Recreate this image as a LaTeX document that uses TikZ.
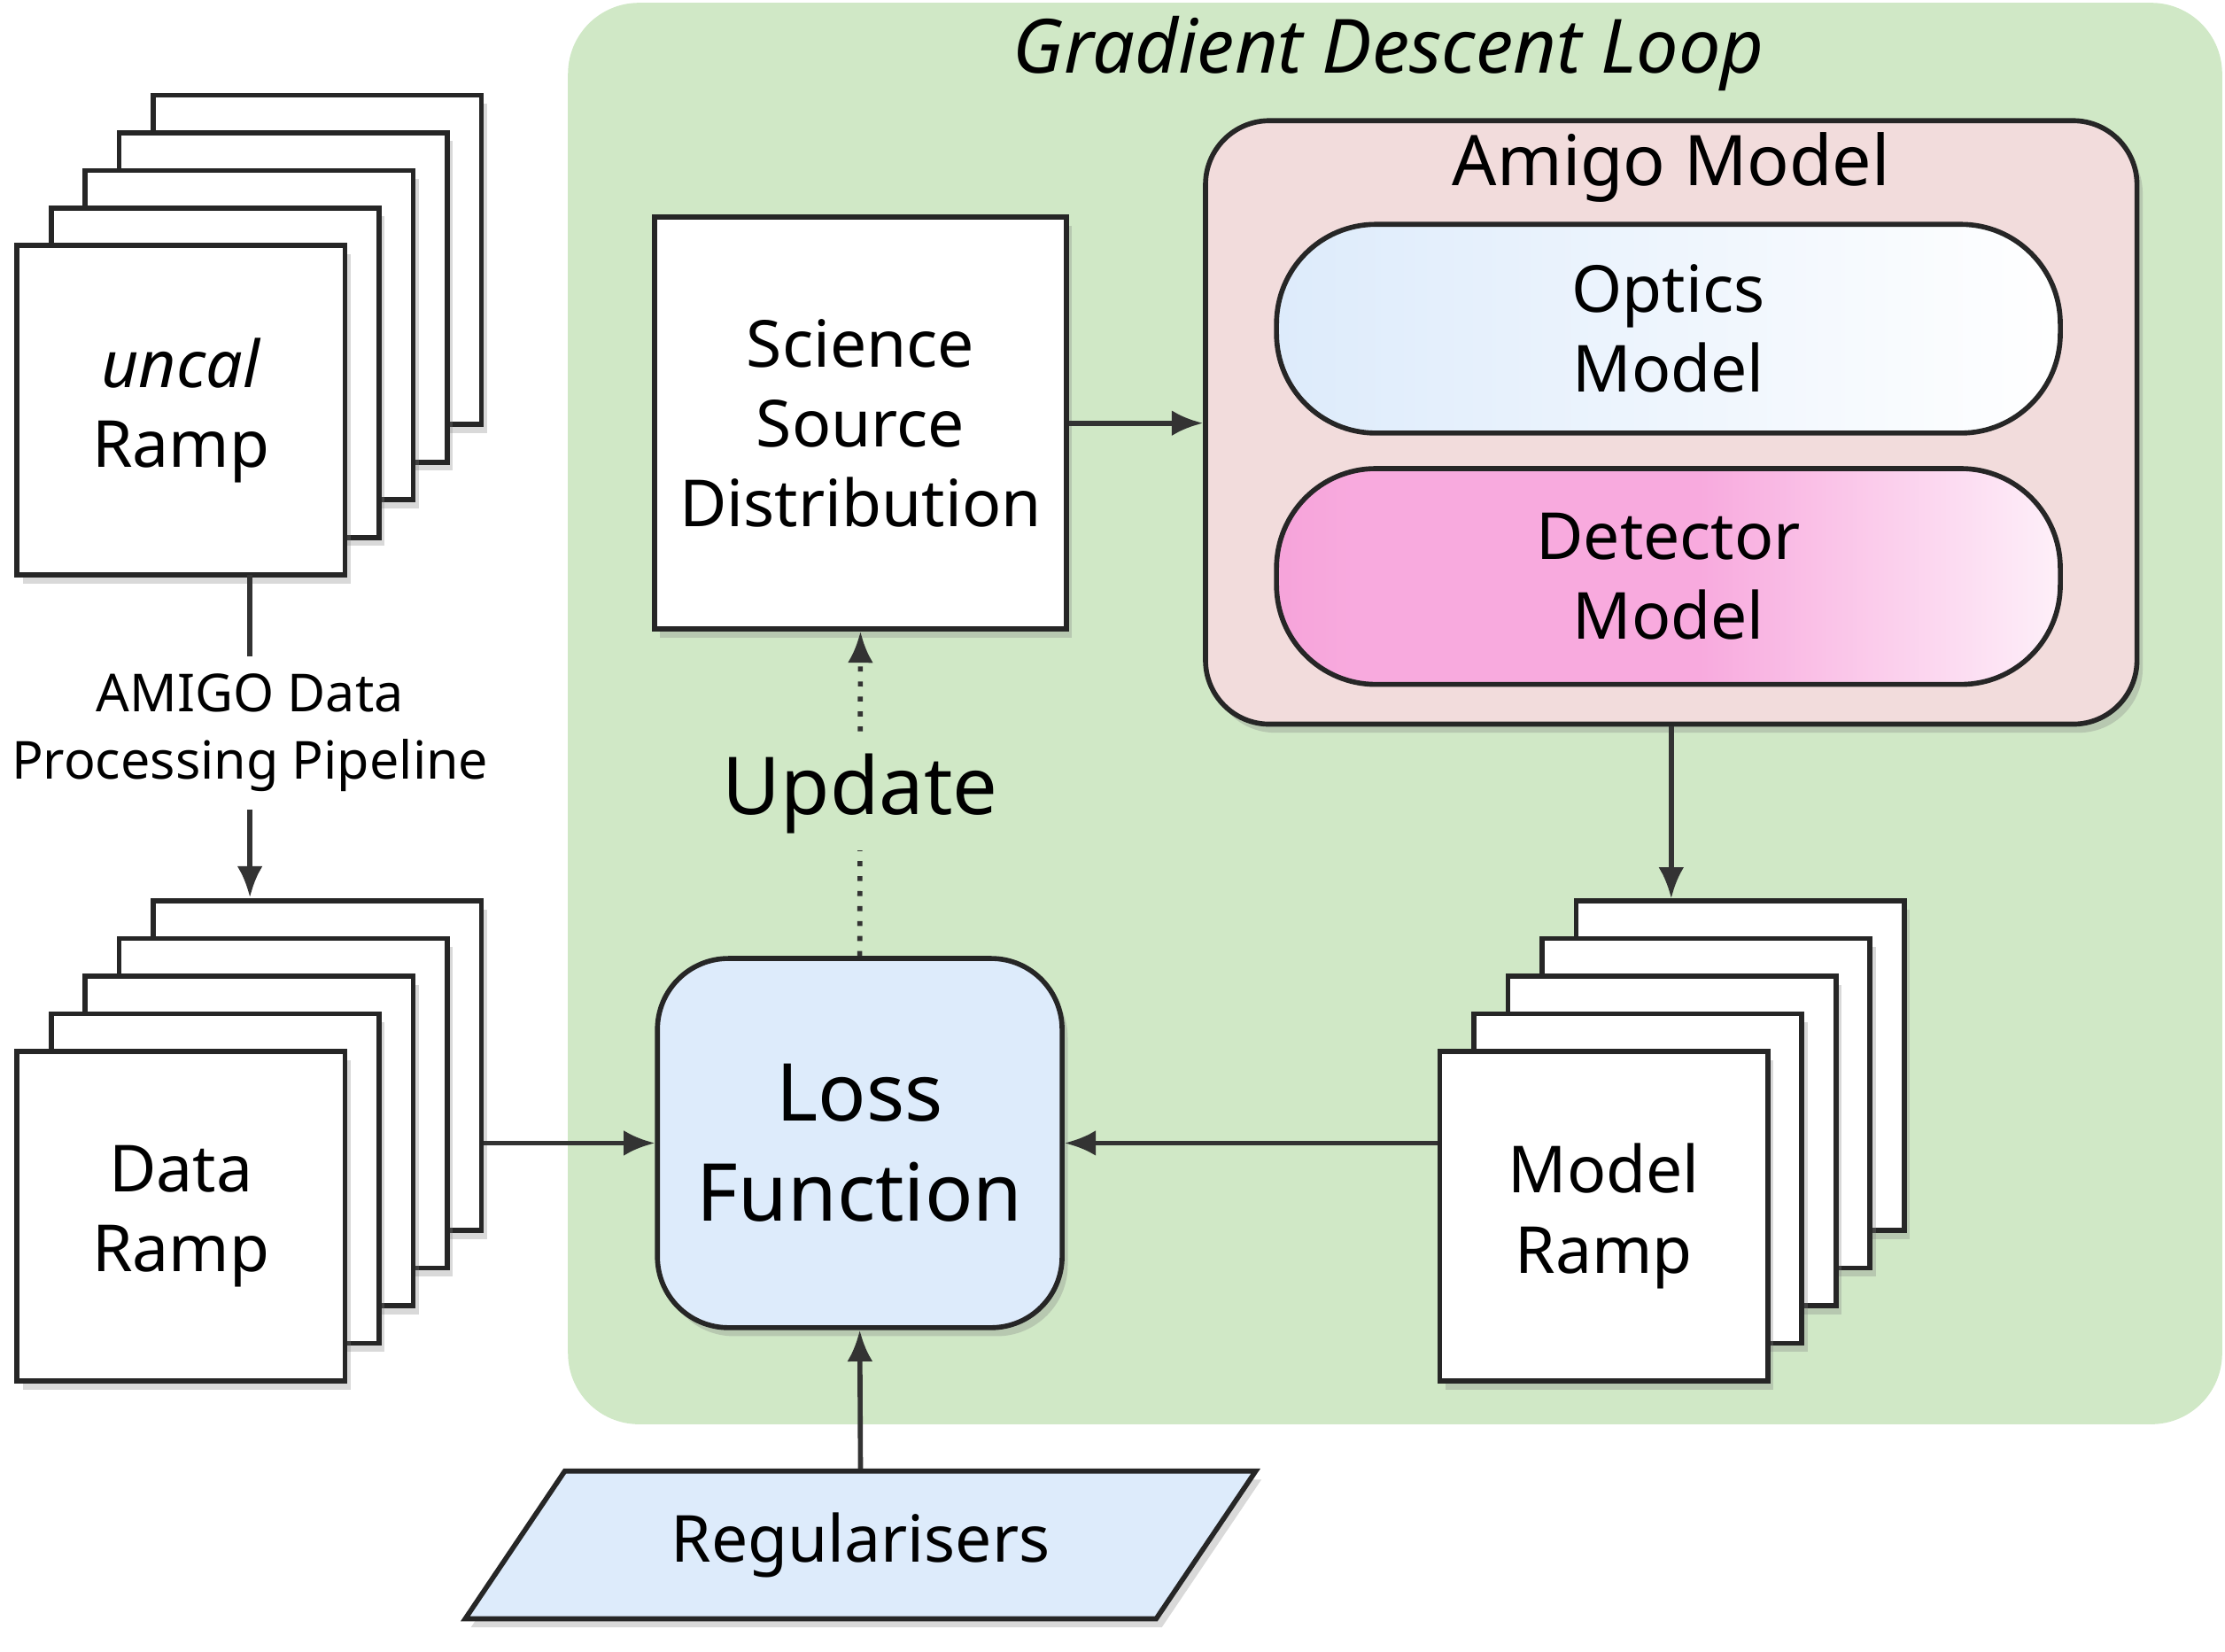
\documentclass[tikz,border=0pt]{standalone}
\usepackage{fontspec}
\setmainfont{Noto Sans}
\newfontfamily\titlefont{Noto Sans}[AutoFakeBold=2.5]
\usetikzlibrary{shapes.geometric,arrows.meta,shadows}

\definecolor{loopgreen}{RGB}{208,232,198}
\definecolor{lossblue}{RGB}{221,235,251}
\definecolor{amigopink}{RGB}{242,220,220}
\definecolor{detpinkA}{RGB}{236,130,196}
\definecolor{detpinkB}{RGB}{248,170,222}
\pgfdeclarehorizontalshading{detshade}{100bp}{color(0bp)=(detpinkA); color(30bp)=(detpinkB); color(52bp)=(detpinkB); color(80bp)=(white); color(100bp)=(white)}

\tikzset{
  frame/.style={draw=black!85, line width=1pt, fill=white, minimum width=2.31cm, minimum height=2.32cm,
    drop shadow={shadow xshift=0.04cm, shadow yshift=-0.06cm, opacity=0.3}},
  flow/.style={-{Latex[length=0.22cm,width=0.18cm]}, line width=1pt, draw=black!80},
  pill/.style={draw=black!85, line width=1pt, rounded corners=0.7cm, minimum width=5.52cm, align=center, font=\fontsize{13}{16}\selectfont}
}

\begin{document}
\begin{tikzpicture}
  \useasboundingbox (0,0) rectangle (15.67,11.63);

  % loop background
  \fill[loopgreen, rounded corners=0.5cm] (4.0,1.6) rectangle (15.65,11.61);
  \node (title) at (9.78,11.25) {\fontsize{15}{18}\selectfont\titlefont\bfseries\itshape Gradient Descent Loop};

  % ramp stacks
  \foreach \i in {4,3,2,1} {
    \node[frame] (uncal\i) at ({1.275+0.24*\i},{8.74+0.265*\i}) {};
    \node[frame] (data\i) at ({1.275+0.24*\i},{3.065+0.265*\i}) {};
    \node[frame] (mramp\i) at ({11.295+0.24*\i},{3.065+0.265*\i}) {};
  }
  \node[frame, align=center, font=\fontsize{13}{16}\selectfont] (uncal) at (1.275,8.74) {\textit{uncal}\\Ramp};
  \node[frame, align=center, font=\fontsize{13}{16}\selectfont] (data) at (1.275,3.065) {Data\\Ramp};
  \node[frame, align=center, font=\fontsize{13}{16}\selectfont] (mramp) at (11.295,3.065) {Model\\Ramp};

  % pipeline
  \node[align=center, font=\fontsize{10.5}{13.5}\selectfont] (pipe) at (1.76,6.47) {AMIGO Data\\Processing Pipeline};
  \draw[line width=1pt, draw=black!80] (1.76,7.58) -- (pipe.north);
  \draw[flow] (pipe.south) -- (1.76,5.31);

  % science source
  \node[frame, minimum width=2.9cm, minimum height=2.9cm, align=center, font=\fontsize{13}{16}\selectfont] (science) at (6.06,8.65) {Science\\Source\\Distribution};

  % amigo model
  \node[draw=black!85, line width=1pt, fill=amigopink, rounded corners=0.45cm, minimum width=6.56cm, minimum height=4.25cm,
    drop shadow={shadow xshift=0.04cm, shadow yshift=-0.06cm, opacity=0.3}] (amigo) at (11.77,8.655) {};
  \node[font=\fontsize{14}{17}\selectfont] (amigotitle) at (11.77,10.45) {Amigo Model};
  \node[pill, minimum height=1.47cm, left color=lossblue, right color=white] (optics) at (11.75,9.315) {Optics\\Model};
  \node[pill, minimum height=1.52cm, shading=detshade] (detector) at (11.75,7.57) {Detector\\Model};

  % loss function
  \node[draw=black!85, line width=1pt, fill=lossblue, rounded corners=0.5cm, minimum width=2.85cm, minimum height=2.6cm,
    align=center, font=\fontsize{16}{20}\selectfont,
    drop shadow={shadow xshift=0.04cm, shadow yshift=-0.06cm, opacity=0.3}] (loss) at (6.055,3.58) {Loss\\Function};

  % regularisers
  \node[trapezium, trapezium left angle=56, trapezium right angle=124, draw=black!85, line width=1pt, fill=lossblue,
    minimum height=1.04cm, inner xsep=0.05cm, font=\fontsize{13}{16}\selectfont,
    drop shadow={shadow xshift=0.04cm, shadow yshift=-0.06cm, opacity=0.3}] (reg) at (6.06,0.75) {Regularisers};

  % connectors
  \draw[flow] (science.east) -- (amigo.west |- science.east);
  \draw[flow] (amigo.south) -- (amigo.south |- mramp4.north);
  \draw[flow] (mramp.west |- loss.east) -- (loss.east);
  \draw[flow] (data4.east |- loss.west) -- (loss.west);
  \draw[flow] (reg.north) -- (loss.south);
  \draw[line width=1pt, draw=black!80, dotted, -{Latex[length=0.22cm,width=0.18cm]}] (loss.north) -- node[fill=loopgreen, font=\fontsize{16}{19}\selectfont] (update) {Update} (science.south);
\end{tikzpicture}
\end{document}
